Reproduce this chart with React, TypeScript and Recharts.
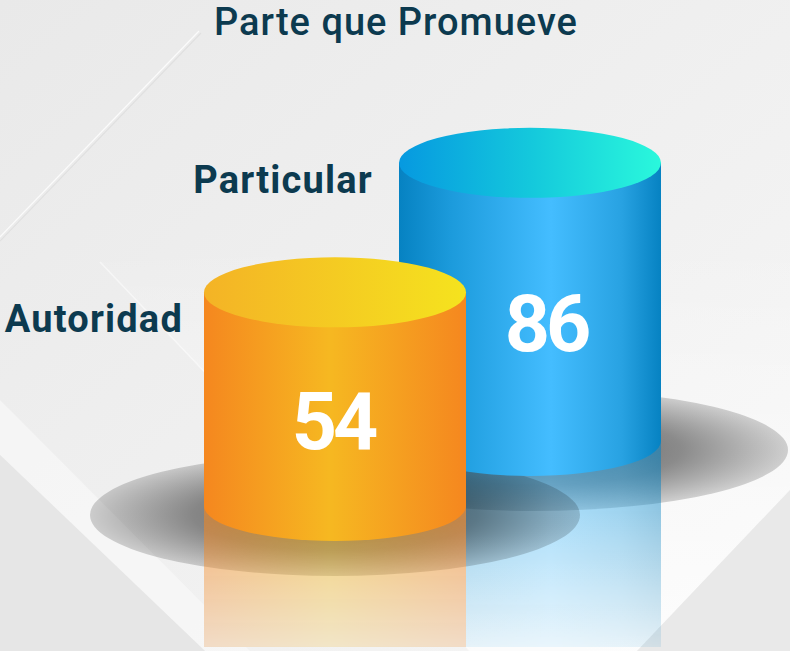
import React from 'react';
import { BarChart, Bar, XAxis, YAxis } from 'recharts';

// ---- data ----
const categories = ['Particular', 'Autoridad'];
const counts = [86, 54];
const TITLE = 'Parte que Promueve';
const data = categories.map((name, i) => ({ name, value: counts[i] }));

const Y_DOMAIN: [number, number] = [-52, 140];

// ---- style ----
const FONT = 'Roboto, "DejaVu Sans", sans-serif';
const INK = '#0c3a4f';
const RX = 131;
const RY = 35;
const REFL_BELOW = 141;

const STYLE: Record<string, any> = {
  Autoridad: {
    body: 'url(#orangeBody)', top: 'url(#orangeTop)', depth: 0, mask: 'url(#reflMaskA)', front: true,
    labelDx: -21, labelDy: 40, numDx: -2, numDy: 157,
    shadowDx: 0, shadowRx: 245,
  },
  Particular: {
    body: 'url(#blueBody)', top: 'url(#blueTop)', depth: 65, mask: 'url(#reflMaskB)', front: false,
    labelDx: -26, labelDy: 30, numDx: 16, numDy: 188,
    shadowDx: 4, shadowRx: 254,
  },
};

const Cylinder = (props: any) => {
  const { x, y, width, height, payload } = props;
  const st = STYLE[payload.name];
  const v = payload.value;
  const cx = x + width / 2;
  const plotBottom = y + (height * (v - Y_DOMAIN[0])) / v;
  const top = y - st.depth;
  const bottom = plotBottom - st.depth;
  const d = `M${cx - RX},${top} L${cx - RX},${bottom} A${RX},${RY} 0 0 0 ${cx + RX},${bottom} L${cx + RX},${top} Z`;
  return (
    <g>
      <path d={d} fill={st.body} />
      <ellipse cx={cx} cy={top} rx={RX} ry={RY} fill={st.top} />
      <text
        x={cx - RX + st.labelDx}
        y={top + st.labelDy}
        textAnchor="end"
        fontFamily={FONT}
        fontWeight={700}
        fontSize={38}
        letterSpacing={1.2}
        fill={INK}
      >
        {payload.name}
      </text>
      <text
        x={cx + st.numDx}
        y={top + st.numDy}
        textAnchor="middle"
        fontFamily={FONT}
        fontWeight={700}
        fontSize={79}
        letterSpacing={-4}
        fill="#ffffff"
      >
        {v}
      </text>
    </g>
  );
};

const Ground = (props: any) => {
  const { x, y, width, height, payload, index } = props;
  const name = payload && payload.name ? payload.name : categories[index];
  const st = STYLE[name];
  const cx = x + width / 2;
  const bottom = y + height - st.depth;
  return (
    <g>
      {st.front && (
        <rect x={cx - RX} y={bottom} width={RX * 2} height={REFL_BELOW + st.depth} fill="#f1f1f1" />
      )}
      <ellipse cx={cx + st.shadowDx} cy={bottom + 9} rx={st.shadowRx} ry={61} fill="url(#shadowGrad)" />
      <rect
        x={cx - RX}
        y={bottom}
        width={RX * 2}
        height={REFL_BELOW + st.depth}
        fill={st.body}
        mask={st.mask}
      />
    </g>
  );
};

const Backdrop = () => (
  <svg width={790} height={651} style={{ position: 'absolute', left: 0, top: 0 }}>
    <defs>
      <linearGradient id="bgGrad" x1="0" y1="0" x2="1" y2="1">
        <stop offset="0" stopColor="#e9e9e9" />
        <stop offset="0.6" stopColor="#f1f1f1" />
        <stop offset="1" stopColor="#f7f7f7" />
      </linearGradient>
      <linearGradient id="glowGrad" x1="0" y1="0" x2="0" y2="1">
        <stop offset="0" stopColor="#ffffff" stopOpacity="0" />
        <stop offset="1" stopColor="#ffffff" stopOpacity="0.75" />
      </linearGradient>
      <linearGradient id="orangeBody" x1="0" y1="0" x2="1" y2="0">
        <stop offset="0" stopColor="#f5871f" />
        <stop offset="0.48" stopColor="#f6b821" />
        <stop offset="1" stopColor="#f5871f" />
      </linearGradient>
      <linearGradient id="orangeTop" x1="0" y1="0" x2="1" y2="0">
        <stop offset="0" stopColor="#f4b326" />
        <stop offset="1" stopColor="#f5e31e" />
      </linearGradient>
      <linearGradient id="blueBody" x1="0" y1="0" x2="1" y2="0">
        <stop offset="0" stopColor="#0682c2" />
        <stop offset="0.2" stopColor="#1c9bdc" />
        <stop offset="0.58" stopColor="#44bdff" />
        <stop offset="0.85" stopColor="#28a2e2" />
        <stop offset="1" stopColor="#0682c2" />
      </linearGradient>
      <linearGradient id="blueTop" x1="0" y1="0" x2="1" y2="0">
        <stop offset="0" stopColor="#0699e0" />
        <stop offset="0.5" stopColor="#14c8dc" />
        <stop offset="1" stopColor="#2af8dc" />
      </linearGradient>
      <radialGradient id="shadowGrad" cx="0.5" cy="0.5" r="0.5">
        <stop offset="0" stopColor="#000" stopOpacity="0.62" />
        <stop offset="0.58" stopColor="#000" stopOpacity="0.44" />
        <stop offset="1" stopColor="#000" stopOpacity="0.17" />
      </radialGradient>
      <linearGradient id="reflFadeA" x1="0" y1="0" x2="0" y2="1">
        <stop offset="0" stopColor="#fff" stopOpacity="0.6" />
        <stop offset="1" stopColor="#fff" stopOpacity="0.2" />
      </linearGradient>
      <linearGradient id="reflFadeB" x1="0" y1="0" x2="0" y2="1">
        <stop offset="0" stopColor="#fff" stopOpacity="0.6" />
        <stop offset="1" stopColor="#fff" stopOpacity="0.1" />
      </linearGradient>
      <mask id="reflMaskA" maskContentUnits="objectBoundingBox">
        <rect x="0" y="0" width="1" height="1" fill="url(#reflFadeA)" />
      </mask>
      <mask id="reflMaskB" maskContentUnits="objectBoundingBox">
        <rect x="0" y="0" width="1" height="1" fill="url(#reflFadeB)" />
      </mask>
    </defs>
    <rect x={0} y={0} width={790} height={651} fill="url(#bgGrad)" />
    <polygon points="100,262 470,651 637,651 790,490 790,240" fill="url(#glowGrad)" />
    <polygon points="0,400 0,455 205,651 250,651" fill="#fafafa" opacity={0.6} />
    <polygon points="0,455 0,651 205,651" fill="#e6e6e6" />
    <polygon points="790,490 790,651 637,651" fill="#e9e9e9" />
    <line x1={201} y1={33} x2={0} y2={241} stroke="#dcdcdc" strokeWidth={1.2} opacity={0.7} />
    <line x1={199} y1={31} x2={-2} y2={239} stroke="#ffffff" strokeWidth={1.2} opacity={0.8} />
    <line x1={100} y1={262} x2={470} y2={651} stroke="#ffffff" strokeWidth={1.5} opacity={0.5} />
    <text
      x={396}
      y={35}
      textAnchor="middle"
      fontFamily={FONT}
      fontWeight={500}
      fontSize={38}
      letterSpacing={1}
      fill={INK}
    >
      {TITLE}
    </text>
  </svg>
);

export default function App() {
  return (
    <div style={{ position: 'absolute', left: 0, top: 0, width: 790, height: 651, overflow: 'hidden' }}>
      <Backdrop />
      <div style={{ position: 'absolute', left: 0, top: 0 }}>
        <BarChart
          width={790}
          height={651}
          data={data}
          margin={{ top: 119, right: 162.5, bottom: 145, left: 237.5 }}
        >
          <XAxis dataKey="name" hide reversed />
          <YAxis hide domain={Y_DOMAIN} />
          <Bar
            dataKey="value"
            isAnimationActive={false}
            shape={Cylinder}
            background={Ground}
          />
        </BarChart>
      </div>
    </div>
  );
}
